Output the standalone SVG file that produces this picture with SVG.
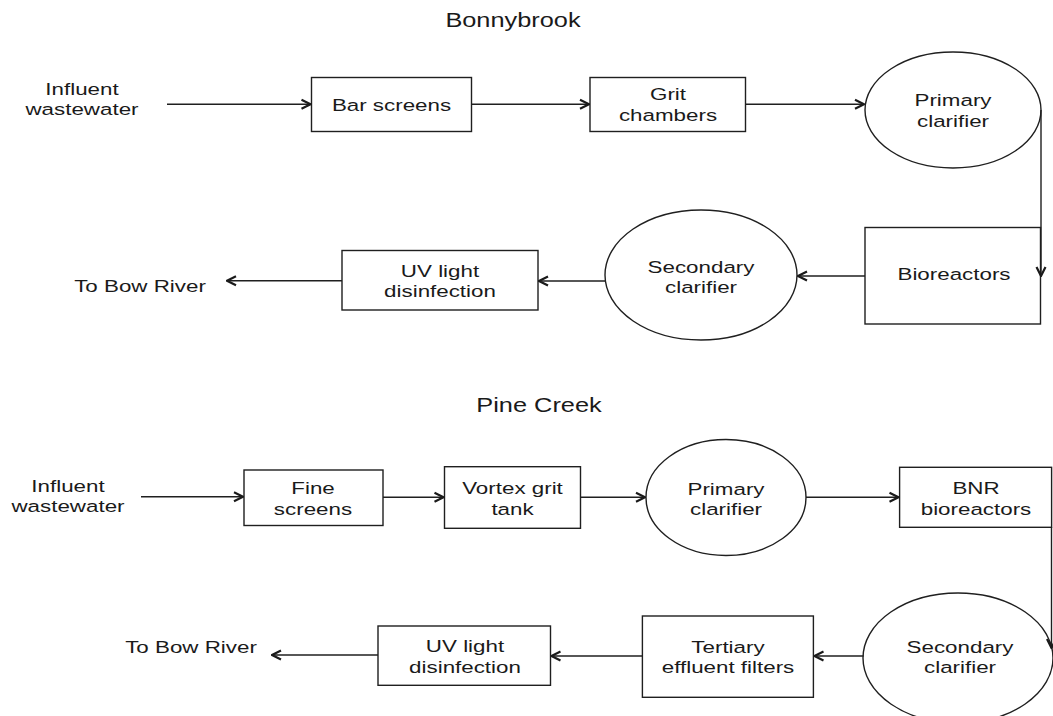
<svg xmlns="http://www.w3.org/2000/svg" width="1053" height="716" viewBox="0 0 1053 716">
<defs>
<marker id="arr" viewBox="0 0 12 12" refX="11" refY="6" markerWidth="12" markerHeight="12" markerUnits="userSpaceOnUse" orient="auto">
<path d="M2,1.5 L11,6 L2,10.5" fill="none" stroke="#1a1a1a" stroke-width="2.2" stroke-linejoin="miter"/>
</marker>
</defs>
<style>
text{font-family:"Liberation Sans",Arial,Helvetica,sans-serif;font-size:17.2px;fill:#1a1a1a;text-anchor:middle}
.title{font-size:19.5px}
.box{fill:#fff;stroke:#1f1f1f;stroke-width:1.4}
.con{fill:none;stroke:#1f1f1f;stroke-width:1.4;marker-end:url(#arr)}
</style>
<rect width="1053" height="716" fill="#fff"/>

<!-- Bonnybrook -->
<g id="title-bonnybrook"><text class="title" transform="translate(513,27) scale(1.3,1)">Bonnybrook</text></g>
<g id="b-influent"><text transform="translate(82,95) scale(1.3,1)"><tspan x="0">Influent</tspan><tspan x="0" dy="20.3">wastewater</tspan></text></g>
<g id="b-bar"><rect class="box" x="311.5" y="77.5" width="160" height="54"/><text transform="translate(391.5,111) scale(1.3,1)">Bar screens</text></g>
<g id="b-grit"><rect class="box" x="590" y="77.5" width="155.5" height="54"/><text transform="translate(668,100) scale(1.3,1)"><tspan x="0">Grit</tspan><tspan x="0" dy="21.5">chambers</tspan></text></g>
<g id="b-primary"><ellipse class="box" cx="953" cy="110" rx="88" ry="58"/><text transform="translate(953,106) scale(1.3,1)"><tspan x="0">Primary</tspan><tspan x="0" dy="21.5">clarifier</tspan></text></g>
<g id="b-bio"><rect class="box" x="865" y="227.5" width="175.5" height="96.5"/><text transform="translate(954,280) scale(1.3,1)">Bioreactors</text></g>
<g id="b-secondary"><ellipse class="box" cx="701" cy="275" rx="96" ry="65"/><text transform="translate(701,273) scale(1.3,1)"><tspan x="0">Secondary</tspan><tspan x="0" dy="20.5">clarifier</tspan></text></g>
<g id="b-uv"><rect class="box" x="342" y="250.5" width="196" height="59.5"/><text transform="translate(440,276.5) scale(1.3,1)"><tspan x="0">UV light</tspan><tspan x="0" dy="21">disinfection</tspan></text></g>
<g id="b-out"><text transform="translate(140,291.5) scale(1.3,1)">To Bow River</text></g>

<!-- Pine Creek -->
<g id="title-pinecreek"><text class="title" transform="translate(539,412.3) scale(1.3,1)">Pine Creek</text></g>
<g id="p-influent"><text transform="translate(68,491.7) scale(1.3,1)"><tspan x="0">Influent</tspan><tspan x="0" dy="20">wastewater</tspan></text></g>
<g id="p-fine"><rect class="box" x="244" y="470" width="139" height="55.5"/><text transform="translate(313,494.3) scale(1.3,1)"><tspan x="0">Fine</tspan><tspan x="0" dy="20.7">screens</tspan></text></g>
<g id="p-vortex"><rect class="box" x="444.5" y="466.7" width="136" height="61.6"/><text transform="translate(512.5,494) scale(1.3,1)"><tspan x="0">Vortex grit</tspan><tspan x="0" dy="21">tank</tspan></text></g>
<g id="p-primary"><ellipse class="box" cx="726" cy="497.5" rx="80" ry="58"/><text transform="translate(726,495) scale(1.3,1)"><tspan x="0">Primary</tspan><tspan x="0" dy="20.5">clarifier</tspan></text></g>
<g id="p-bnr"><rect class="box" x="899.6" y="467.3" width="152" height="60"/><text transform="translate(976,493.5) scale(1.3,1)"><tspan x="0">BNR</tspan><tspan x="0" dy="21.5">bioreactors</tspan></text></g>
<g id="p-secondary"><ellipse class="box" cx="958" cy="658" rx="95" ry="65"/><text transform="translate(960,653.3) scale(1.3,1)"><tspan x="0">Secondary</tspan><tspan x="0" dy="19.5">clarifier</tspan></text></g>
<g id="p-tertiary"><rect class="box" x="642.4" y="616" width="171" height="81.3"/><text transform="translate(728,652.7) scale(1.3,1)"><tspan x="0">Tertiary</tspan><tspan x="0" dy="20">effluent filters</tspan></text></g>
<g id="p-uv"><rect class="box" x="378" y="626" width="172.5" height="59.3"/><text transform="translate(465,651.7) scale(1.3,1)"><tspan x="0">UV light</tspan><tspan x="0" dy="21.5">disinfection</tspan></text></g>
<g id="p-out"><text transform="translate(191,652.7) scale(1.3,1)">To Bow River</text></g>

<g id="connectors">
<line class="con" x1="167" y1="104.3" x2="310.5" y2="104.3"/>
<line class="con" x1="471.5" y1="104.3" x2="589" y2="104.3"/>
<line class="con" x1="745.5" y1="104.3" x2="864" y2="104.3"/>
<polyline class="con" points="1041,110 1041,276"/>
<line class="con" x1="865" y1="276" x2="798" y2="276"/>
<line class="con" x1="605" y1="281" x2="539" y2="281"/>
<line class="con" x1="342" y1="280.7" x2="227" y2="280.7"/>
<line class="con" x1="141" y1="496.7" x2="243" y2="496.7"/>
<line class="con" x1="383" y1="497.3" x2="443.5" y2="497.3"/>
<line class="con" x1="580.5" y1="497.3" x2="645" y2="497.3"/>
<line class="con" x1="806" y1="497.3" x2="898.5" y2="497.3"/>
<polyline class="con" points="1051.5,527.3 1051.5,648"/>
<line class="con" x1="863.5" y1="656" x2="814.5" y2="656"/>
<line class="con" x1="642.4" y1="656" x2="551.5" y2="656"/>
<line class="con" x1="378" y1="655" x2="272" y2="655"/>
</g>
</svg>
